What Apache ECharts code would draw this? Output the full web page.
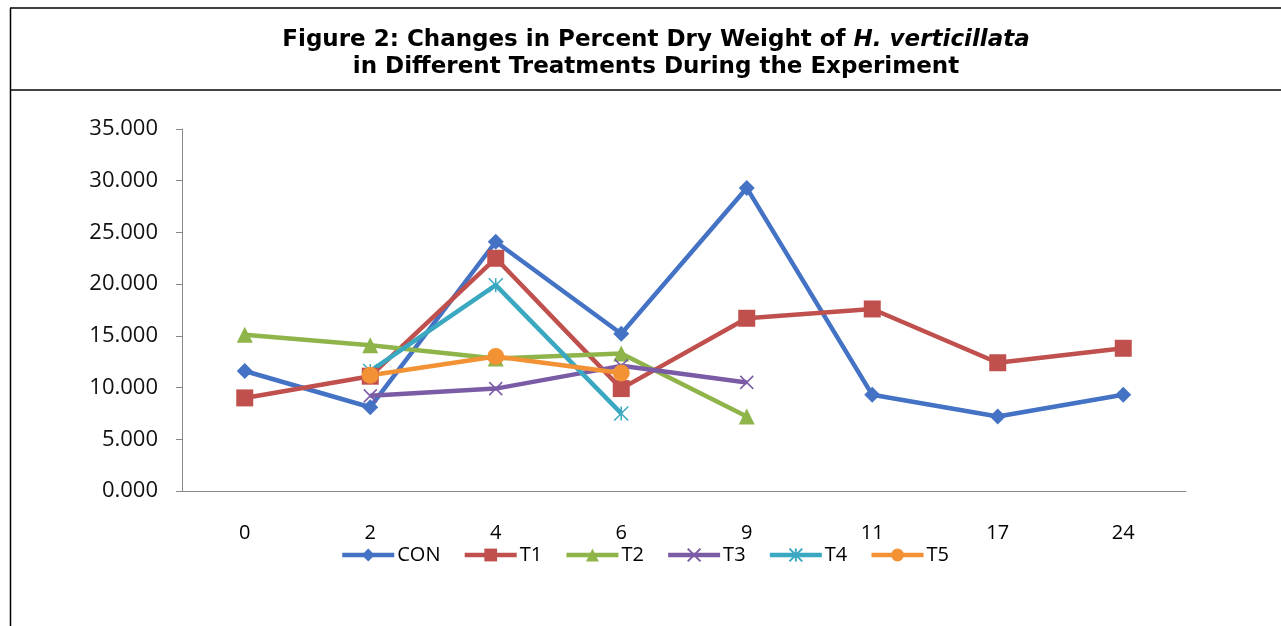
<!DOCTYPE html>
<html><head><meta charset="utf-8">
<script src="https://cdn.jsdelivr.net/npm/echarts@6/dist/echarts.min.js"></script>
<style>html,body{margin:0;padding:0;background:#fff}#c{width:1281px;height:626px}</style>
</head><body><div id="c"></div>
<script>
const categories = ['0','2','4','6','9','11','17','24'];
const CON = [11.6, 8.1, 24.1, 15.2, 29.3, 9.3, 7.2, 9.3];
const T1  = [9.0, 11.1, 22.5, 9.9, 16.7, 17.6, 12.4, 13.8];
const T2  = [15.1, 14.1, 12.8, 13.3, 7.2, null, null, null];
const T3  = [null, 9.2, 9.9, 12.1, 10.5, null, null, null];
const T4  = [null, 11.6, 19.9, 7.5, null, null, null, null];
const T5  = [null, 11.2, 13.0, 11.4, null, null, null, null];
const yTicks = [0,5,10,15,20,25,30,35];

const xPath = 'path://M0,0 L10,10 M10,0 L0,10';
const starPath = 'path://M0,0 L10,10 M10,0 L0,10 M5,0 L5,10';
const font = 'Open Sans';
function s(name, data, color, symbol, size, stroke){
  return {name, type:'line', data, connectNulls:false,
    symbol, symbolSize:size, showSymbol:true,
    lineStyle:{color, width:4.5},
    itemStyle: stroke ? {color:'rgba(0,0,0,0)', borderColor:color, borderWidth:1.5} : {color},
    emphasis:{disabled:true}, z: 2};
}
const chart = echarts.init(document.getElementById('c'));
chart.setOption({
  animation:false,
  title:{
    text:'{b|Figure 2: Changes in Percent Dry Weight of }{i|H. verticillata}\n{b|in Different Treatments During the Experiment}',
    left:651, top:22, textAlign:'center',
    textStyle:{rich:{
      b:{fontFamily:'DejaVu Sans', fontWeight:'bold', fontSize:23, color:'#000', lineHeight:27},
      i:{fontFamily:'DejaVu Sans', fontWeight:'bold', fontStyle:'italic', fontSize:23, color:'#000', lineHeight:27}
    }}
  },
  graphic:[
    {type:'line', shape:{x1:10,y1:8,x2:1281,y2:8}, style:{stroke:'#000', lineWidth:1.5}},
    {type:'line', shape:{x1:10,y1:90,x2:1281,y2:90}, style:{stroke:'#444', lineWidth:2}},
    {type:'line', shape:{x1:10.5,y1:8,x2:10.5,y2:626}, style:{stroke:'#000', lineWidth:1.5}}
  ],
  legend:{
    data:['CON','T1','T2','T3','T4','T5'],
    left:335, top:540, itemWidth:52, itemHeight:16, itemGap:22,
    lineStyle:{width:4.5},
    textStyle:{fontFamily:font, fontSize:20, color:'#000', padding:[0,0,0,-2]}
  },
  grid:{left:182, right:95, top:129, bottom:135},
  xAxis:{
    type:'category', data:categories, boundaryGap:true,
    axisLine:{lineStyle:{color:'#888', width:1}},
    axisTick:{length:6, lineStyle:{color:'#888'}},
    axisLabel:{margin:32, fontFamily:font, fontSize:20, color:'#000'}
  },
  yAxis:{
    type:'value', min:0, max:35, interval:5,
    axisLine:{show:true, lineStyle:{color:'#888'}},
    axisTick:{show:true, length:6, lineStyle:{color:'#888'}},
    splitLine:{show:false},
    axisLabel:{margin:24, fontFamily:font, fontSize:22, color:'#111',
      formatter:v => yTicks.includes(v) ? v.toFixed(3) : ''}
  },
  series:[
    s('CON', CON, '#4472C4', 'diamond', 16),
    s('T1', T1, '#C0504D', 'rect', 17),
    s('T2', T2, '#8FB54A', 'triangle', 16),
    s('T3', T3, '#7A5BA6', xPath, 13, true),
    s('T4', T4, '#3AA8C1', starPath, 14, true),
    s('T5', T5, '#F39234', 'circle', 17)
  ]
});
</script></body></html>
